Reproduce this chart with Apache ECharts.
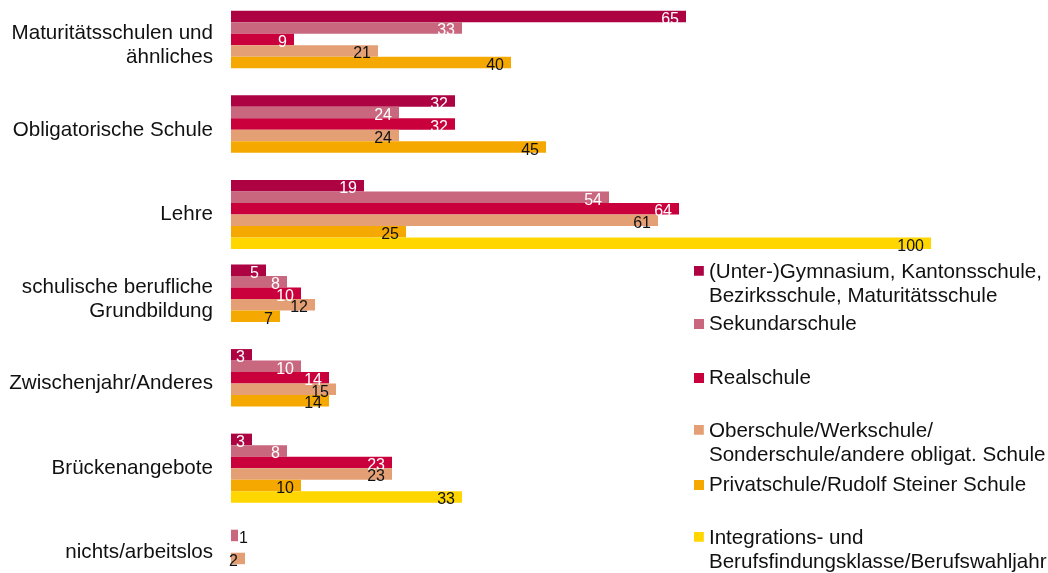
<!DOCTYPE html>
<html>
<head>
<meta charset="utf-8">
<script src="https://cdn.jsdelivr.net/npm/echarts@6/dist/echarts.min.js"></script>
<style>
  html, body { margin: 0; padding: 0; background: #fff; }
  #chart { width: 1048px; height: 573px; }
</style>
</head>
<body>
<div id="chart"></div>
<script>
// categories (top to bottom)
const categories = [
  'Maturitätsschulen und\nähnliches',
  'Obligatorische Schule',
  'Lehre',
  'schulische berufliche\nGrundbildung',
  'Zwischenjahr/Anderes',
  'Brückenangebote',
  'nichts/arbeitslos'
];

const seriesNames = [
  '(Unter-)Gymnasium, Kantonsschule,\nBezirksschule, Maturitätsschule',
  'Sekundarschule',
  'Realschule',
  'Oberschule/Werkschule/\nSonderschule/andere obligat. Schule',
  'Privatschule/Rudolf Steiner Schule',
  'Integrations- und\nBerufsfindungsklasse/Berufswahljahr'
];

const gymnasium   = [65, 32, 19, 5, 3, 3, null];
const sekundar    = [33, 24, 54, 8, 10, 8, 1];
const realschule  = [9, 32, 64, 10, 14, 23, null];
const oberschule  = [21, 24, 61, 12, 15, 23, 2];
const privat      = [40, 45, 25, 7, 14, 10, null];
const integration = [null, null, 100, null, null, 33, null];

const colors = ['#AD0343', '#C9677F', '#C9003B', '#E4A074', '#F5A800', '#FFD600'];
const labelColors = ['#fff', '#fff', '#fff', '#111', '#111', '#111'];

const values = [gymnasium, sekundar, realschule, oberschule, privat, integration];

const chart = echarts.init(document.getElementById('chart'));

const series = values.map((arr, i) => ({
  name: seriesNames[i],
  type: 'bar',
  barWidth: 11.5,
  barGap: '0%',
  itemStyle: { color: colors[i] },
  label: {
    show: true,
    position: 'insideRight',
    distance: 7,
    offset: [0, 3],
    color: labelColors[i],
    fontFamily: 'Liberation Sans',
    fontSize: 16
  },
  data: arr.map(v => v == null ? null : (v < 2
    ? { value: v, label: { position: 'right', distance: 1, color: '#111' } }
    : v))
}));

// legend tops, one per item so spacing can follow the original
const legendTops = [260, 312, 366, 419, 473, 526];
const topIcon = 'path://M0,0h9v9h-9zM0,33h0.01v0.01h-0.01z';

const legends = seriesNames.map((name, i) => ({
  data: [name],
  left: 694,
  top: legendTops[i],
  orient: 'vertical',
  padding: 0,
  selectedMode: false,
  itemWidth: 10,
  itemHeight: name.indexOf('\n') >= 0 ? 36 : 10,
  icon: name.indexOf('\n') >= 0 ? topIcon : 'rect',
  textStyle: {
    fontFamily: 'Liberation Sans',
    fontSize: 20.6,
    lineHeight: 24,
    color: '#111'
  }
}));

chart.setOption({
  animation: false,
  legend: legends,
  grid: { left: 231, top: 3, width: 700, height: 592, outerBoundsMode: 'none' },
  xAxis: {
    type: 'value',
    min: 0,
    max: 100,
    show: false
  },
  yAxis: {
    type: 'category',
    data: categories,
    inverse: true,
    axisLine: { show: false },
    axisTick: { show: false },
    splitLine: { show: false },
    axisLabel: {
      margin: 18,
      fontFamily: 'Liberation Sans',
      fontSize: 20.6,
      lineHeight: 24,
      color: '#111'
    }
  },
  series: series
});
</script>
</body>
</html>
